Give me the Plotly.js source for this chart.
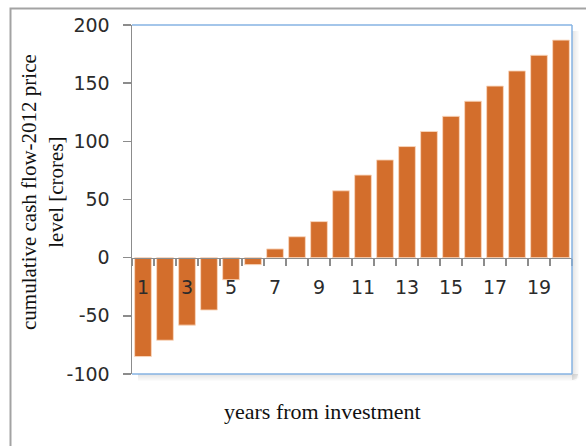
<!DOCTYPE html>
<html>
<head>
<meta charset="utf-8">
<script src="https://cdn.plot.ly/plotly-3.0.1.min.js"></script>
<style>
  html, body { margin: 0; padding: 0; background: #ffffff; }
  #chart { width: 586px; height: 446px; }
</style>
</head>
<body>
<div id="chart"></div>
<script>
// Cumulative cash flow (2012 price level, crores) by year from investment
const years = [1, 2, 3, 4, 5, 6, 7, 8, 9, 10, 11, 12, 13, 14, 15, 16, 17, 18, 19, 20];
const cumulativeCashFlow = [-85, -71, -58, -45, -19, -6, 7.5, 18, 31, 57.5, 71, 84, 95.5, 108.5, 121.5, 134.5, 147.5, 160.5, 174, 187];
const labelYears = [1, 3, 5, 7, 9, 11, 13, 15, 17, 19];
const labelText = labelYears.map(String);
const yTickValues = [-100, -50, 0, 50, 100, 150, 200];
const yTickText = ['-100', '-50', '0', '50', '100', '150', '200'];
const yRange = [-100, 200];

const W = 586, H = 446;
const M = { l: 132, r: 14, t: 25, b: 72 };
const plotW = W - M.l - M.r, plotH = H - M.t - M.b;
// pixel -> paper helpers for the decorative frame and shadow
const px = x => (x - M.l) / plotW;
const py = y => (H - M.b - y) / plotH;

// x axis sits on the zero line
const zeroPos = (0 - yRange[0]) / (yRange[1] - yRange[0]);

const barColor = '#d36e2c';
const axisGray = '#8c8c8c';
const frameBlue = '#86b3e3';

const shapes = [];
// soft drop shadow along the bottom and right of the plot area
for (let k = 0; k < 7; k++) {
  const op = 0.16 * (1 - k / 7);
  shapes.push({ type: 'rect', xref: 'paper', yref: 'paper', layer: 'below',
    x0: px(M.l + 6), x1: px(W - M.r + 6 - k * 0.3), y0: py(H - M.b + k + 1), y1: py(H - M.b + k),
    line: { width: 0 }, fillcolor: 'rgba(90,90,90,' + op + ')' });
  shapes.push({ type: 'rect', xref: 'paper', yref: 'paper', layer: 'below',
    x0: px(W - M.r + k), x1: px(W - M.r + k + 1), y0: py(H - M.b + 6 - k * 0.3), y1: py(M.t + 6),
    line: { width: 0 }, fillcolor: 'rgba(90,90,90,' + op + ')' });
}
// blue plot-area border (top, right, bottom)
shapes.push({ type: 'line', xref: 'paper', yref: 'paper', layer: 'above', x0: 0, x1: 1, y0: 1, y1: 1, line: { color: frameBlue, width: 1.5 } });
shapes.push({ type: 'line', xref: 'paper', yref: 'paper', layer: 'above', x0: 1, x1: 1, y0: 0, y1: 1, line: { color: frameBlue, width: 1.5 } });
shapes.push({ type: 'line', xref: 'paper', yref: 'paper', layer: 'above', x0: 0, x1: 1, y0: 0, y1: 0, line: { color: frameBlue, width: 1.5 } });
// outer chart frame
shapes.push({ type: 'rect', xref: 'paper', yref: 'paper', layer: 'above',
  x0: px(10.5), x1: px(W + 20), y0: py(H + 20), y1: py(8.5),
  line: { color: '#a3a3a3', width: 2 }, fillcolor: 'rgba(0,0,0,0)' });

const trace = {
  type: 'bar',
  x: years,
  y: cumulativeCashFlow,
  marker: { color: barColor, line: { color: 'rgba(250,215,190,0.9)', width: 1 } },
  hoverinfo: 'x+y'
};

const tickFont = { family: 'DejaVu Sans, Verdana, sans-serif', size: 19, color: '#2b2b2b' };
const titleFont = { family: 'Liberation Serif, Times New Roman, serif', size: 21, color: '#111111' };

const layout = {
  width: W, height: H,
  margin: M,
  paper_bgcolor: '#ffffff',
  plot_bgcolor: '#ffffff',
  showlegend: false,
  bargap: 0.24,
  xaxis: {
    range: [0.5, 20.5], anchor: 'free', position: zeroPos,
    tickmode: 'array', tickvals: labelYears, ticktext: labelText,
    ticks: '', showgrid: false, zeroline: false,
    showline: true, linecolor: axisGray, linewidth: 1.5,
    tickfont: tickFont, ticklabelstandoff: 12, fixedrange: true
  },
  xaxis2: {
    overlaying: 'x', range: [0.5, 20.5], anchor: 'free', position: zeroPos,
    tickmode: 'linear', tick0: 0.5, dtick: 1,
    ticks: 'outside', ticklen: 7, tickwidth: 1.5, tickcolor: axisGray,
    showticklabels: false, showgrid: false, zeroline: false, showline: false
  },
  yaxis: {
    range: yRange, tickmode: 'array', tickvals: yTickValues, ticktext: yTickText,
    ticks: 'outside', ticklen: 8, tickwidth: 1.5, tickcolor: axisGray,
    showline: true, linecolor: axisGray, linewidth: 1.5,
    showgrid: false, zeroline: false,
    tickfont: tickFont, ticklabelstandoff: 9, fixedrange: true
  },
  shapes: shapes,
  annotations: [
    { xref: 'paper', yref: 'paper', x: px(42), y: py(192), xanchor: 'center', yanchor: 'middle',
      textangle: -90, showarrow: false, align: 'center', font: titleFont,
      text: 'cumulative cash flow-2012 price<br>level [crores]' },
    { xref: 'paper', yref: 'paper', x: px(322), y: py(411), xanchor: 'center', yanchor: 'middle',
      showarrow: false, font: { family: titleFont.family, size: 22, color: titleFont.color }, text: 'years from investment' }
  ]
};

// empty trace so the boundary-tick axis is drawn
const tickCarrier = { type: 'scatter', x: [], y: [], xaxis: 'x2', yaxis: 'y', hoverinfo: 'skip', showlegend: false };

Plotly.newPlot('chart', [trace, tickCarrier], layout, { displayModeBar: false, staticPlot: true });
</script>
</body>
</html>
